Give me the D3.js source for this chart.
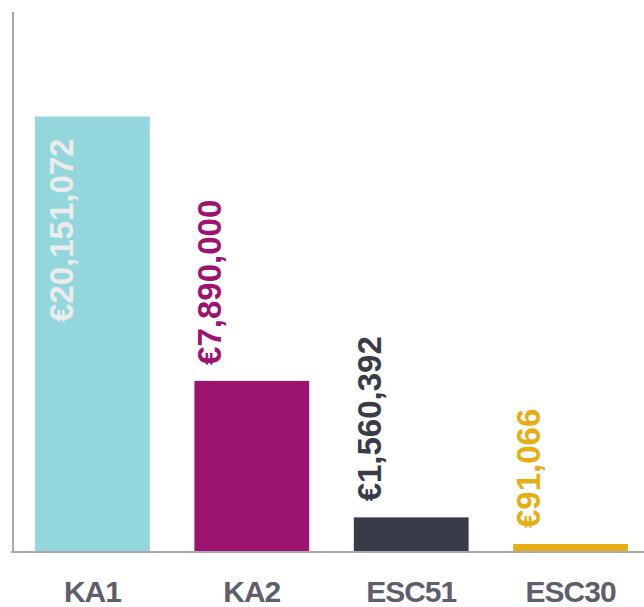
<!DOCTYPE html>
<html>
<head>
<meta charset="utf-8">
<script src="https://cdn.jsdelivr.net/npm/d3@7"></script>
<style>
  html, body { margin: 0; padding: 0; background: #ffffff; }
  svg { display: block; }
</style>
</head>
<body>
<svg id="chart" width="644" height="607"></svg>
<script>
const categories = ["KA1", "KA2", "ESC51", "ESC30"];
const values = [20151072, 7890000, 1560392, 91066];
const colors = ["#93d6dc", "#9c1470", "#393b48", "#e6ae12"];
const yDomain = [0, 25000000];

const W = 644, H = 607;
const svg = d3.select("#chart");

const baseY = 551, topY = 12, axisX = 13;
const x = d3.scaleBand().domain(categories).range([axisX, 650]).paddingInner(0.28).paddingOuter(0.138);
const y = d3.scaleLinear().domain(yDomain).range([baseY, topY]);
const minH = 7;

const data = categories.map((c, i) => ({ cat: c, value: values[i], color: colors[i] }));
const fmt = v => "€" + d3.format(",")(v);

// bars
svg.append("g").selectAll("rect").data(data).join("rect")
  .attr("x", d => x(d.cat))
  .attr("width", x.bandwidth())
  .attr("y", d => baseY - Math.max(baseY - y(d.value), minH))
  .attr("height", d => Math.max(baseY - y(d.value), minH))
  .attr("fill", d => d.color);

// axes lines
svg.append("line").attr("x1", axisX).attr("x2", axisX).attr("y1", topY).attr("y2", baseY + 2)
  .attr("stroke", "#aaaaaa").attr("stroke-width", 2);
svg.append("line").attr("x1", axisX - 2).attr("x2", W).attr("y1", baseY + 1).attr("y2", baseY + 1)
  .attr("stroke", "#aaaaaa").attr("stroke-width", 2);

// value labels
svg.append("g").selectAll("text").data(data).join("text")
  .each(function(d) {
    const h = Math.max(baseY - y(d.value), minH);
    const top = baseY - h;
    const inside = h > 250;
    const tx = x(d.cat) + (inside ? 38 : 27);
    const ty = inside ? top + 22 : top - 16;
    d3.select(this)
      .attr("transform", `translate(${tx},${ty}) rotate(-90)`)
      .attr("text-anchor", inside ? "end" : "start")
      .attr("fill", inside ? "#ececec" : d.color);
  })
  .attr("font-family", "'Liberation Sans', Arial, Helvetica, sans-serif")
  .attr("font-weight", "bold")
  .attr("font-size", 33)
  .attr("stroke", "currentColor")
  .attr("stroke-width", 0)
  .text(d => fmt(d.value));

// category labels
svg.append("g").selectAll("text").data(categories).join("text")
  .attr("x", d => x(d) + x.bandwidth() / 2)
  .attr("y", 602)
  .attr("text-anchor", "middle")
  .attr("fill", "#5f5f6b")
  .attr("font-family", "'Liberation Sans', Arial, Helvetica, sans-serif")
  .attr("font-weight", "bold")
  .attr("font-size", 30)
  .attr("letter-spacing", -1)
  .text(d => d);
</script>
</body>
</html>
